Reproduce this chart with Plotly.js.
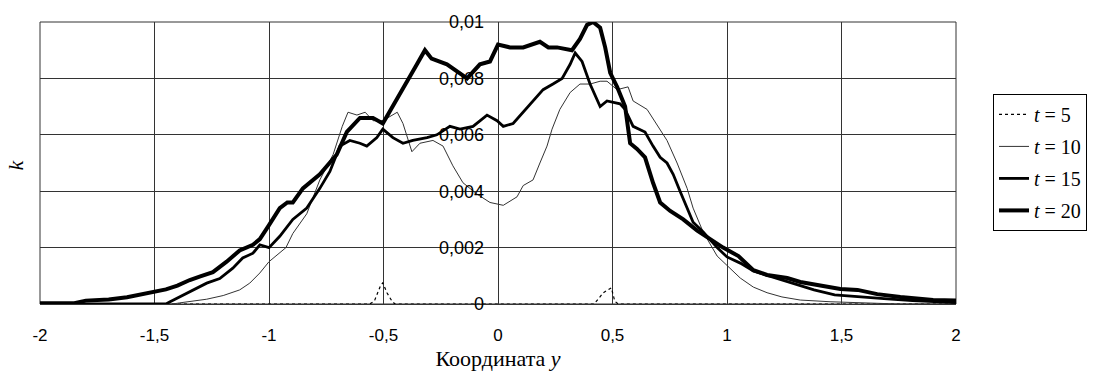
<!DOCTYPE html>
<html>
<head>
<meta charset="utf-8">
<script src="https://cdn.plot.ly/plotly-3.0.1.min.js"></script>
<style>html,body{margin:0;padding:0;background:#fff;}#chart{width:1115px;height:380px;}</style>
</head>
<body>
<div id="chart"></div>
<script>
// ---- data ----
const xTicks = [-2, -1.5, -1, -0.5, 0, 0.5, 1, 1.5, 2];
const xTickText = ['-2', '-1,5', '-1', '-0,5', '0', '0,5', '1', '1,5', '2'];
const yTicks = [0, 0.002, 0.004, 0.006, 0.008, 0.01];
const yTickText = ['0', '0,002', '0,004', '0,006', '0,008', '0,01'];

const seriesNames = ['<i>t</i> = 5', '<i>t</i> = 10', '<i>t</i> = 15', '<i>t</i> = 20'];

const yT5 = [-2, -0.56, -0.54, -0.524, -0.512, -0.503, -0.485, -0.463, -0.45, 0.42, 0.44, 0.46, 0.48, 0.495, 0.51, 0.525, 2];
const kT5 = [0, 0, 0.0001, 0.0004, 0.00067, 0.00075, 0.0004, 0.0001, 0, 0, 0.0002, 0.0004, 0.0005, 0.00057, 0.0001, 0, 0];

const yT10 = [-2, -1.42, -1.39, -1.272, -1.2, -1.128, -1.084, -1.04, -1.0, -0.953, -0.926, -0.896, -0.835, -0.778, -0.72, -0.68, -0.655, -0.616, -0.58, -0.546, -0.503, -0.44, -0.415, -0.376, -0.341, -0.284, -0.24, -0.197, -0.153, -0.092, -0.035, 0.023, 0.083, 0.11, 0.153, 0.183, 0.214, 0.236, 0.27, 0.315, 0.358, 0.402, 0.446, 0.476, 0.52, 0.568, 0.59, 0.651, 0.708, 0.738, 0.782, 0.826, 0.852, 0.896, 0.957, 1.014, 1.058, 1.115, 1.175, 1.24, 1.32, 1.45, 1.6, 1.75, 2];
const kT10 = [0, 0, 0.00004, 0.00017, 0.0003, 0.0005, 0.00074, 0.0011, 0.0015, 0.0018, 0.002, 0.0025, 0.0032, 0.0044, 0.0053, 0.0063, 0.0068, 0.0067, 0.0068, 0.0065, 0.0065, 0.0068, 0.0064, 0.0054, 0.0057, 0.0058, 0.0056, 0.0049, 0.0043, 0.0039, 0.0036, 0.0035, 0.0038, 0.0042, 0.0044, 0.005, 0.0056, 0.0062, 0.0069, 0.0075, 0.0078, 0.0078, 0.0079, 0.0079, 0.0076, 0.0077, 0.0072, 0.0069, 0.0062, 0.0058, 0.005, 0.0041, 0.0034, 0.00255, 0.0017, 0.00127, 0.00092, 0.0006, 0.0004, 0.00025, 0.00014, 0.00008, 0.00004, 0, 0];

const yT15 = [-2, -1.45, -1.434, -1.39, -1.333, -1.272, -1.215, -1.158, -1.115, -1.07, -1.04, -1.0, -0.953, -0.896, -0.835, -0.778, -0.734, -0.69, -0.647, -0.603, -0.573, -0.529, -0.503, -0.459, -0.415, -0.372, -0.31, -0.267, -0.21, -0.166, -0.109, -0.048, -0.004, 0.023, 0.066, 0.11, 0.153, 0.197, 0.24, 0.28, 0.315, 0.337, 0.367, 0.402, 0.446, 0.476, 0.533, 0.555, 0.59, 0.642, 0.677, 0.708, 0.738, 0.765, 0.795, 0.826, 0.852, 0.896, 0.957, 1.0, 1.058, 1.115, 1.2, 1.29, 1.38, 1.47, 1.57, 1.7, 1.81, 1.9, 2];
const kT15 = [0, 0, 0.00007, 0.00025, 0.0005, 0.00074, 0.0009, 0.00127, 0.00163, 0.0018, 0.0021, 0.002, 0.0024, 0.003, 0.0034, 0.0041, 0.0047, 0.0056, 0.0058, 0.0057, 0.0056, 0.0059, 0.0062, 0.0059, 0.0057, 0.0058, 0.0059, 0.006, 0.0063, 0.0062, 0.0063, 0.0067, 0.0065, 0.0063, 0.0064, 0.0068, 0.0072, 0.0076, 0.0078, 0.008, 0.0085, 0.0089, 0.0086, 0.0078, 0.007, 0.0072, 0.0071, 0.0069, 0.0063, 0.0061, 0.0056, 0.0052, 0.005, 0.0046, 0.004, 0.0034, 0.0029, 0.00255, 0.002, 0.00167, 0.00145, 0.00117, 0.00096, 0.00074, 0.0005, 0.00032, 0.00025, 0.00018, 0.00012, 0.00008, 0.00005];

const yT20 = [-2, -1.85, -1.8, -1.7, -1.62, -1.55, -1.5, -1.45, -1.4, -1.346, -1.3, -1.245, -1.185, -1.128, -1.07, -1.04, -1.0, -0.953, -0.92, -0.896, -0.852, -0.778, -0.704, -0.66, -0.603, -0.546, -0.503, -0.459, -0.398, -0.354, -0.319, -0.29, -0.223, -0.166, -0.135, -0.079, -0.035, 0, 0.052, 0.11, 0.15, 0.183, 0.22, 0.258, 0.323, 0.358, 0.389, 0.415, 0.446, 0.468, 0.49, 0.52, 0.555, 0.577, 0.607, 0.642, 0.677, 0.708, 0.752, 0.809, 0.87, 0.927, 0.983, 1.05, 1.115, 1.175, 1.263, 1.32, 1.407, 1.495, 1.57, 1.656, 1.757, 1.9, 2];
const kT20 = [0.00003, 0.00003, 0.00012, 0.00016, 0.00024, 0.00035, 0.00042, 0.00052, 0.00065, 0.00085, 0.00098, 0.00113, 0.0015, 0.0019, 0.0021, 0.0023, 0.0028, 0.0034, 0.0036, 0.0036, 0.0041, 0.0046, 0.0053, 0.0061, 0.0066, 0.0066, 0.0064, 0.007, 0.0079, 0.0085, 0.009, 0.0087, 0.0085, 0.0082, 0.008, 0.0085, 0.0086, 0.0092, 0.0091, 0.0091, 0.0092, 0.0093, 0.0091, 0.0091, 0.009, 0.0094, 0.0099, 0.01, 0.0098, 0.0091, 0.0082, 0.0077, 0.007, 0.0057, 0.0055, 0.0052, 0.0043, 0.0036, 0.0033, 0.003, 0.0026, 0.0023, 0.002, 0.0017, 0.0012, 0.00103, 0.00092, 0.00078, 0.00064, 0.00053, 0.0005, 0.00035, 0.00025, 0.00014, 0.00012];

// ---- plot ----
const SANS = 'Arial, "Liberation Sans", sans-serif';
const SERIF = '"Times New Roman", "Liberation Serif", serif';

const traces = [
  {x: yT5, y: kT5, name: seriesNames[0], legendgroup: 'a', line: {color: '#000', width: 1.2, dash: 'dot'}},
  {x: yT10, y: kT10, name: seriesNames[1], legendgroup: 'b', line: {color: '#333', width: 1}},
  {x: yT15, y: kT15, name: seriesNames[2], legendgroup: 'c', line: {color: '#000', width: 2.8}},
  {x: yT20, y: kT20, name: seriesNames[3], legendgroup: 'd', line: {color: '#000', width: 4}}
].map(t => Object.assign({type: 'scatter', mode: 'lines', hoverinfo: 'skip'}, t));

const layout = {
  width: 1115, height: 380,
  margin: {l: 40, r: 159, t: 22, b: 76},
  paper_bgcolor: '#fff', plot_bgcolor: '#fff',
  showlegend: true,
  xaxis: {
    range: [-2, 2], tickvals: xTicks, ticktext: xTickText,
    showgrid: true, gridcolor: '#333', gridwidth: 1,
    zeroline: true, zerolinecolor: '#333', zerolinewidth: 1,
    showline: false, ticks: '', ticklabelstandoff: 19,
    tickfont: {family: SANS, size: 17, color: '#000'},
    title: {text: 'Координата <i>y</i>', font: {family: SERIF, size: 22, color: '#000'}, standoff: 6}
  },
  yaxis: {
    range: [0, 0.01], tickvals: yTicks, ticktext: yTickText,
    anchor: 'free', position: 0.5, side: 'left',
    showgrid: true, gridcolor: '#333', gridwidth: 1,
    zeroline: true, zerolinecolor: '#333', zerolinewidth: 1,
    showline: false, ticks: '', ticklabelstandoff: 14,
    tickfont: {family: SANS, size: 18, color: '#000'}
  },
  shapes: [{type: 'rect', xref: 'paper', yref: 'paper', x0: 0, x1: 1, y0: 0, y1: 1, line: {color: '#333', width: 1}, layer: 'below'}],
  annotations: [{
    text: '<i>k</i>', xref: 'paper', yref: 'paper', x: -0.0267, y: 0.493,
    xanchor: 'center', yanchor: 'middle',
    showarrow: false, textangle: -90, font: {family: SERIF, size: 22, color: '#000'}
  }],
  legend: {
    x: 1.0404, xanchor: 'left', y: 0.745, yanchor: 'top',
    bordercolor: '#000', borderwidth: 1, bgcolor: '#fff',
    font: {family: SERIF, size: 20, color: '#000'},
    traceorder: 'grouped', tracegroupgap: 3,
    entrywidth: 72
  }
};

Plotly.newPlot('chart', traces, layout, {displayModeBar: false, staticPlot: true});
</script>
</body>
</html>
